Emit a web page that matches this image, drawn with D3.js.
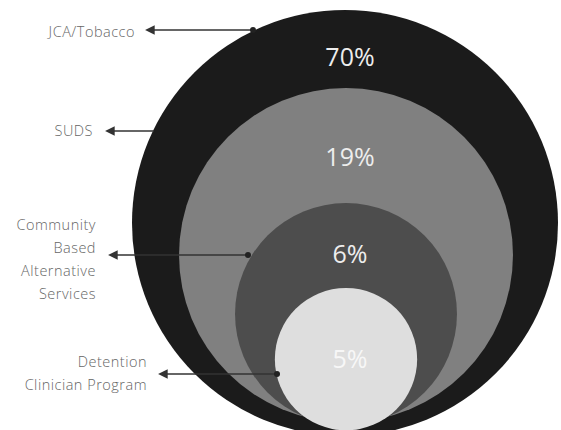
<!DOCTYPE html>
<html>
<head>
<meta charset="utf-8">
<script src="https://cdn.jsdelivr.net/npm/d3@7/dist/d3.min.js"></script>
<style>
  html, body { margin: 0; padding: 0; background: #fff; }
  svg { display: block; }
  .lbl { font-family: "Open Sans", "Noto Sans", sans-serif; font-size: 14.5px; font-weight: 300; fill: #666; letter-spacing: 0.5px; }
  .pct { font-family: "Open Sans", "Noto Sans", sans-serif; font-size: 25px; }
</style>
</head>
<body>
<svg id="chart" width="561" height="430"></svg>
<script>
const categories = ['JCA/Tobacco', 'SUDS', 'Community Based Alternative Services', 'Detention Clinician Program'];
const labelLines = [['JCA/Tobacco'], ['SUDS'], ['Community', 'Based', 'Alternative', 'Services'], ['Detention', 'Clinician Program']];
const shares = [70, 19, 6, 5];

// layout (not data)
const relSize = [1, 0.784, 0.521, 0.334];
const tops = [10, 88, 203, 288];
const fills = ['#1b1b1b', '#808080', '#4d4d4d', '#dedede'];

const W = 561, H = 430;
const cx = 345, R = 213;

const svg = d3.select('#chart');

const rScale = d3.scaleLinear().domain([0, 1]).range([0, R]);

const nodes = categories.map((c, i) => {
  const r = rScale(relSize[i]);
  return { name: c, lines: labelLines[i], value: shares[i], r: r, cx: cx + (i === 0 ? 0 : 1), cy: tops[i] + r };
});

svg.append('defs').append('marker')
  .attr('id', 'arr')
  .attr('viewBox', '0 0 10 10')
  .attr('refX', 8).attr('refY', 5)
  .attr('markerWidth', 6).attr('markerHeight', 6)
  .attr('orient', 'auto')
  .append('path')
  .attr('d', 'M0,0 L10,5 L0,10 z')
  .attr('fill', '#333');

svg.selectAll('circle.ring')
  .data(nodes)
  .join('circle')
  .attr('class', 'ring')
  .attr('cx', d => d.cx)
  .attr('cy', d => d.cy)
  .attr('r', d => d.r)
  .attr('fill', (d, i) => fills[i]);

// percentage labels, placed in the band above the next circle
svg.selectAll('text.pct')
  .data(nodes)
  .join('text')
  .attr('class', 'pct')
  .attr('text-anchor', 'middle')
  .attr('x', d => cx + 5)
  .attr('y', (d, i) => {
    const top = d.cy - d.r;
    if (i === nodes.length - 1) return d.cy + 9;
    const nextTop = nodes[i + 1].cy - nodes[i + 1].r;
    return top + (nextTop - top) * 0.6 + 9;
  })
  .attr('fill', (d, i) => i === 3 ? '#f7f7f7' : '#ededed')
  .text(d => d.value + '%');

// callouts: arrow tip x, arrow y, dot x, text right x, first line y
const callouts = [
  { tip: 147, y: 30, dot: 253, tx: 135, ty: 37 },
  { tip: 107, y: 131, dot: 154, tx: 93, ty: 136 },
  { tip: 110, y: 255, dot: 248, tx: 96, ty: 230 },
  { tip: 160, y: 374, dot: 277, tx: 147, ty: 367 }
];

const g = svg.selectAll('g.callout')
  .data(nodes)
  .join('g')
  .attr('class', 'callout');

g.append('line')
  .attr('x1', (d, i) => callouts[i].dot)
  .attr('x2', (d, i) => callouts[i].tip)
  .attr('y1', (d, i) => callouts[i].y)
  .attr('y2', (d, i) => callouts[i].y)
  .attr('stroke', '#333')
  .attr('stroke-width', 1.6)
  .attr('marker-end', 'url(#arr)');

g.filter((d, i) => i !== 1).append('circle')
  .attr('r', 3)
  .attr('fill', '#222')
  .each(function (d) {
    const i = nodes.indexOf(d);
    d3.select(this).attr('cx', callouts[i].dot).attr('cy', callouts[i].y);
  });

g.append('text')
  .attr('class', 'lbl')
  .attr('text-anchor', 'end')
  .each(function (d) {
    const i = nodes.indexOf(d);
    d3.select(this).selectAll('tspan')
      .data(d.lines)
      .join('tspan')
      .attr('x', callouts[i].tx)
      .attr('y', (l, j) => callouts[i].ty + j * 23)
      .text(l => l);
  });
</script>
</body>
</html>
